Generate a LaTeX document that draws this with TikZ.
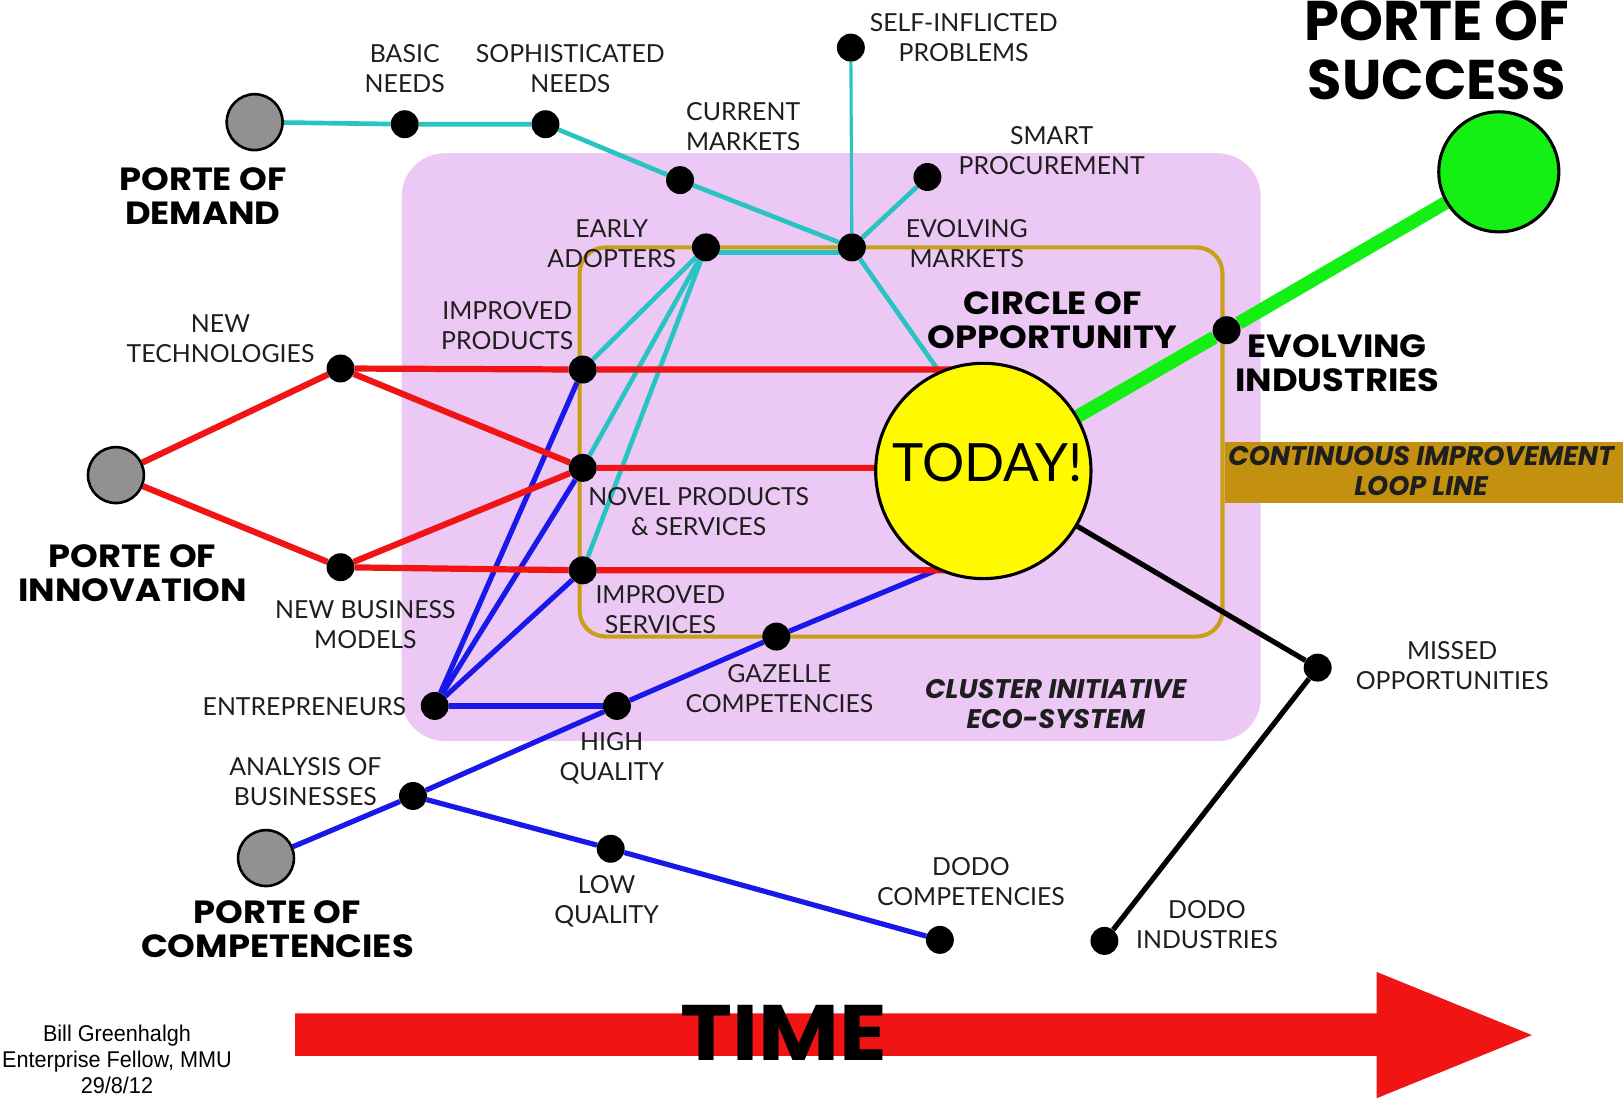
\documentclass[tikz,border=0pt]{standalone}
\usepackage{fontspec}
\setmainfont{Lato}
\newfontfamily\heavyfont{Poppins}[FakeStretch=1.1]
\newfontfamily\heavyplain{Poppins}
\newfontfamily\arialfont{Liberation Sans}
\usepackage{graphicx}
\pgfdeclarelayer{back}
\pgfdeclarelayer{lines}
\pgfsetlayers{back,lines,main}
\definecolor{pinkc}{RGB}{236,200,244}
\definecolor{goldc}{RGB}{200,160,24}
\definecolor{goldbox}{RGB}{196,144,16}
\definecolor{cyanc}{RGB}{40,196,196}
\definecolor{redc}{RGB}{240,20,20}
\definecolor{bluec}{RGB}{24,24,232}
\definecolor{greenc}{RGB}{20,240,20}
\definecolor{yellowc}{RGB}{255,250,0}
\definecolor{portegray}{RGB}{145,145,145}
\definecolor{txt}{RGB}{30,30,30}
\tikzset{
  station/.style={circle, fill=black, inner sep=0pt, minimum size=27pt},
  porte/.style={circle, fill=portegray, draw=black, line width=2.5pt, minimum size=54pt, inner sep=0pt},
  lbl/.style={font=\fontsize{24}{29}\selectfont, align=center, inner sep=0pt, text=txt},
  hlbl/.style={font=\heavyfont\bfseries\fontsize{31}{33}\selectfont, align=center, inner sep=0pt, text=black},
  ilbl/.style={font=\heavyplain\bfseries\itshape\fontsize{26}{29}\selectfont, align=center, inner sep=0pt, text=txt},
  cyanln/.style={cyanc, line width=4.5pt},
  redln/.style={redc, line width=6pt},
  blueln/.style={bluec, line width=5pt},
  blackln/.style={black, line width=5pt},
  greenln/.style={greenc, line width=13pt},
}
\begin{document}
\begin{tikzpicture}[x=1pt,y=-1pt]
\useasboundingbox (0,0) rectangle (1568,1060);
\begin{pgfonlayer}{back}
\fill[white] (0,0) rectangle (1568,1060);
\fill[pinkc, rounded corners=42pt] (388,148) rectangle (1218,716);
\draw[goldc, line width=4pt, rounded corners=25pt] (560,239) rectangle (1181,615);
\end{pgfonlayer}
\fill[goldbox] (1183,427) rectangle (1568,486);

% big circles
\node[porte] (pd) at (246,118) {};
\node[porte] (pi) at (112,459) {};
\node[porte] (pc) at (257,829) {};
\node[circle, fill=greenc, draw=black, line width=3pt, minimum size=116pt, inner sep=0pt] (ps) at (1448,166) {};
\node[circle, fill=yellowc, draw=black, line width=3pt, minimum size=208pt, inner sep=0pt] (today) at (950,455) {};
\node[font=\fontsize{51}{51}\selectfont, inner sep=0pt] (todaytxt) at (954,447) {TODAY!};

% stations
\node[station] (bn) at (391,120) {};
\node[station] (sn) at (527,120) {};
\node[station] (cm) at (657,174) {};
\node[station] (sip) at (822,46) {};
\node[station] (sp) at (896,171) {};
\node[station] (em) at (823,239) {};
\node[station] (ea) at (682,239) {};
\node[station] (ip) at (563,357) {};
\node[station] (np) at (563,452) {};
\node[station] (is) at (563,551) {};
\node[station] (nt) at (329,356) {};
\node[station] (nbm) at (329,548) {};
\node[station] (ent) at (420,682) {};
\node[station] (hq) at (596,682) {};
\node[station] (gz) at (750,615) {};
\node[station] (ab) at (399,769) {};
\node[station] (lq) at (590,820) {};
\node[station] (dc) at (908,908) {};
\node[station] (di) at (1067,909) {};
\node[station] (mo) at (1273,645) {};
\node[station] (ei) at (1185,319) {};

\begin{pgfonlayer}{lines}
\draw[blueln] (ent) -- (ip);
\draw[blueln] (ent) -- (np);
\draw[blueln] (ent) -- (is);
\draw[blueln] (ent) -- (hq);
\draw[blueln] (pc) -- (ab) -- (hq) -- (gz) -- (today.245);
\draw[blueln] (ab) -- (lq) -- (dc);
\draw[cyanln] (pd) -- (bn) -- (sn) -- (cm) -- (em);
\draw[cyanc, line width=3pt] (sip) -- (em);
\draw[cyanln] (sp) -- (em);
\draw[cyanln] (em) -- (today.114);
\draw[cyanln] ([yshift=-5pt]ea.center) -- ([yshift=-5pt]em.center);
\draw[cyanln] (ea) -- (ip);
\draw[cyanln] (ea) -- (np);
\draw[cyanln] (ea) -- (is);
\draw[redln] (pi) -- (nt) -- (ip) -- (ip -| today.center);
\draw[redln] (nt) -- (np) -- (np -| today.center);
\draw[redln] (pi) -- (nbm) -- (np);
\draw[redln] (nbm) -- (is) -- (is -| today.center);
\draw[blackln] (today) -- (mo) -- (di);
\draw[greenln] (today) -- (ei) -- (ps);
\end{pgfonlayer}

% station labels
\node[lbl] (l-bn) at (391,66.5) {BASIC\\NEEDS};
\node[lbl] (l-sn) at (551,66.5) {SOPHISTICATED\\NEEDS};
\node[lbl] (l-cm) at (718,122.5) {CURRENT\\MARKETS};
\node[lbl] (l-sip) at (931,36.5) {SELF-INFLICTED\\PROBLEMS};
\node[lbl] (l-sp) at (1016,145.5) {SMART\\PROCUREMENT};
\node[lbl] (l-em) at (934,235.5) {EVOLVING\\MARKETS};
\node[lbl] (l-ea) at (591,235.5) {EARLY\\ADOPTERS};
\node[lbl] (l-ip) at (490,314.5) {IMPROVED\\PRODUCTS};
\node[lbl] (l-nt) at (213,327.5) {NEW\\TECHNOLOGIES};
\node[lbl] (l-np) at (675,494.5) {NOVEL PRODUCTS\\\& SERVICES};
\node[lbl] (l-is) at (638,588.5) {IMPROVED\\SERVICES};
\node[lbl] (l-nbm) at (353,603.5) {NEW BUSINESS\\MODELS};
\node[lbl] (l-ent) at (294,683) {ENTREPRENEURS};
\node[lbl] (l-hq) at (591,732.5) {HIGH\\QUALITY};
\node[lbl] (l-gz) at (753,665.5) {GAZELLE\\COMPETENCIES};
\node[lbl] (l-ab) at (295,755.5) {ANALYSIS OF\\BUSINESSES};
\node[lbl] (l-lq) at (586,870.5) {LOW\\QUALITY};
\node[lbl] (l-dc) at (938,851.5) {DODO\\COMPETENCIES};
\node[lbl] (l-di) at (1166,893.5) {DODO\\INDUSTRIES};
\node[lbl] (l-mo) at (1403,643.5) {MISSED\\OPPORTUNITIES};

% bold labels
\node[hlbl] (l-co) at (1017,309) {CIRCLE OF\\OPPORTUNITY};
\node[hlbl] (l-ei) at (1292,350.5) {EVOLVING\\INDUSTRIES};
\node[hlbl] (l-pd) at (196,189.5) {PORTE OF\\DEMAND};
\node[hlbl] (l-pi) at (128,553.5) {PORTE OF\\INNOVATION};
\node[hlbl] (l-pc) at (268,897.5) {PORTE OF\\COMPETENCIES};
\node[hlbl, font=\heavyplain\bfseries\fontsize{54}{57}\selectfont] (l-ps) at (1388,48.5) {PORTE OF\\SUCCESS};
\node[ilbl] (l-cl) at (1020,680.5) {CLUSTER INITIATIVE\\ECO-SYSTEM};
\node[ilbl] (l-ci) at (1373,455) {CONTINUOUS IMPROVEMENT\\LOOP LINE};

% time arrow
\fill[redc] (285,979) -- (1330,979) -- (1330,939) -- (1480,1000) -- (1330,1061) -- (1330,1020) -- (285,1020) -- cycle;
\node[font=\heavyplain\bfseries\fontsize{76}{76}\selectfont, inner sep=0pt] (time) at (757,998) {\scalebox{1.12}[1]{TIME}};

% author
\node[font=\arialfont\fontsize{22}{25}\selectfont, inner sep=0pt] (author) at (113,1026) {\scalebox{0.95}[1]{\begin{tabular}{@{}c@{}}Bill Greenhalgh\\Enterprise Fellow, MMU\\29/8/12\end{tabular}}};
\end{tikzpicture}
\end{document}
